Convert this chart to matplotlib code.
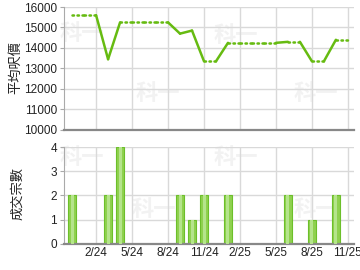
import matplotlib
matplotlib.use('Agg')
import matplotlib.pyplot as plt
import numpy as np

plt.rcParams.update({'font.size': 8.5, 'font.family': ['Liberation Sans', 'Noto Sans CJK TC', 'DejaVu Sans']})

# months counted from Nov 2023 (= 0)
tick_pos = [3, 6, 9, 12, 15, 18, 21, 24]
tick_labels = ['2/24', '5/24', '8/24', '11/24', '2/25', '5/25', '8/25', '11/25']

price_months = list(range(1, 25))
price_values = [15600, 15600, 15600, 13450, 15250, 15250, 15250, 15250, 15250,
                14700, 14850, 13350, 13350, 14250, 14250, 14250, 14250, 14250,
                14300, 14300, 13350, 13350, 14400, 14400]
# style of the segment starting at each month (True = solid)
seg_solid = [False, False, True, True, False, False, False, False, True,
             True, True, False, True, False, False, False, False, True,
             False, True, False, True, False]

bar_months = [1, 4, 5, 10, 11, 12, 14, 19, 21, 23]
bar_counts = [2, 2, 4, 2, 1, 2, 2, 2, 1, 2]

line_col = '#66bb11'
grid_col = '#d9d9d9'
cjk = ['Noto Sans CJK TC']

fig = plt.figure(figsize=(3.6, 2.7), dpi=100)
ax1 = fig.add_axes([0.178, 0.519, 0.805, 0.455])
ax2 = fig.add_axes([0.178, 0.097, 0.805, 0.358])

for ax in (ax1, ax2):
    ax.patch.set_alpha(0)
    ax.set_xlim(0.33, 24.5)
    ax.set_xticks(tick_pos)
    ax.grid(True, color=grid_col, linewidth=1)
    ax.set_axisbelow(True)
    for s in ('top', 'right'):
        ax.spines[s].set_visible(False)
    ax.spines['left'].set_color('#aaaaaa')
    ax.spines['bottom'].set_color('#888888')
    ax.spines['bottom'].set_linewidth(1.6)
    ax.tick_params(axis='both', length=3, color='#aaaaaa', labelcolor='#222222', pad=2)
    ax.tick_params(axis='x', length=0)

# faint watermarks, behind the axes
for (wx, wy) in [(82, 33), (158, 93), (236, 35), (316, 93), (82, 157), (154, 210), (236, 157), (316, 210)]:
    fig.text(wx / 360, 1 - wy / 270, '科一', ha='center', va='center', fontsize=16,
             fontweight='bold', color='#f2f2f2', family=cjk, zorder=-1)

ax1.set_ylim(10000, 16000)
ax1.set_yticks(range(10000, 16001, 1000))
ax1.set_xticklabels([])
for i in range(len(seg_solid)):
    xs = price_months[i:i + 2]
    ys = price_values[i:i + 2]
    if seg_solid[i]:
        ax1.plot(xs, ys, color=line_col, linewidth=1.8, solid_capstyle='round')
    else:
        ax1.plot(xs, ys, color=line_col, linewidth=1.8, linestyle=(0, (0.6, 1.4)),
                 dash_capstyle='round')

ax2.set_ylim(0, 4)
ax2.set_yticks(range(0, 5))
ax2.set_xticklabels(tick_labels)
ax2.bar(bar_months, bar_counts, width=0.72, color='#8fd14f', edgecolor='#6cbf2a', linewidth=0.8, zorder=2)
ax2.bar(bar_months, bar_counts, width=0.25, color='#b5e48c', linewidth=0, zorder=3)

fig.text(16 / 360, 1 - 67 / 270, '平均呎價', rotation=90, ha='center', va='center',
         fontsize=9.5, family=cjk, color='#222222')
fig.text(18 / 360, 1 - 194 / 270, '成交宗數', rotation=90, ha='center', va='center',
         fontsize=9.5, family=cjk, color='#222222')

fig.savefig('out.png', dpi=100)
